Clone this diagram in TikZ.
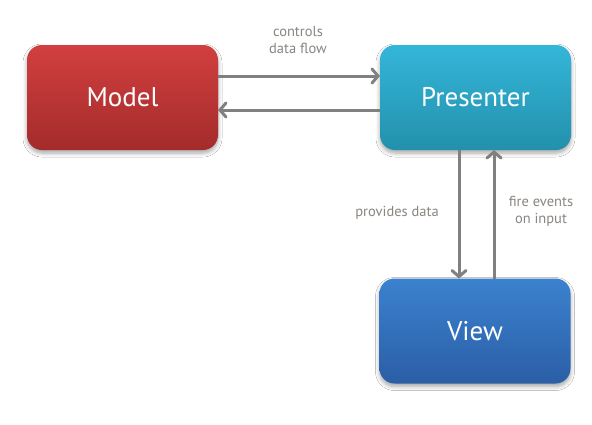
\documentclass[tikz,border=0pt]{standalone}
\usepackage{fontspec}
\setmainfont{PT Sans}
\usetikzlibrary{arrows.meta,shadows.blur}
\definecolor{arrowgray}{HTML}{808080}
\definecolor{labelgray}{HTML}{8A8580}
\definecolor{modeltop}{HTML}{D23F3F}
\definecolor{modelbot}{HTML}{A42B2B}
\definecolor{prestop}{HTML}{34B6D9}
\definecolor{presbot}{HTML}{2390AC}
\definecolor{viewtop}{HTML}{3B82CF}
\definecolor{viewbot}{HTML}{2B5EA6}
\tikzset{
  block/.style={rectangle, rounded corners=15pt, minimum width=191pt,
    minimum height=105pt, inner sep=0pt, outer sep=0pt, text=white,
    font=\fontsize{27}{30}\selectfont,
    blur shadow={shadow xshift=0pt, shadow yshift=-3pt, shadow blur steps=6,
      shadow blur radius=4pt, shadow opacity=35}},
  flow/.style={draw=arrowgray, line width=3pt,
    -{Straight Barb[length=6pt,width=14pt,line cap=round]}},
  note/.style={text=labelgray, font=\fontsize{14.5}{17}\selectfont, align=center}
}
\begin{document}
\begin{tikzpicture}[x=1pt,y=-1pt]
  \useasboundingbox[fill=white] (0,0) rectangle (592,424);
  % the three MVP components
  \node[block, top color=modeltop, bottom color=modelbot] (model) at (122.5,97.5) {Model};
  \node[block, top color=prestop, bottom color=presbot] (presenter) at (475.5,97.5) {Presenter};
  \node[block, top color=viewtop, bottom color=viewbot] (view) at (475,331) {View};
  % model <-> presenter
  \draw[flow] ([yshift=21.5pt]model.east) -- ([yshift=21.5pt]presenter.west);
  \draw[flow] ([yshift=-12.5pt]presenter.west) -- ([yshift=-12.5pt]model.east);
  % presenter <-> view
  \draw[flow] ([xshift=-16.5pt]presenter.south) -- ([xshift=-16pt]view.north);
  \draw[flow] ([xshift=19pt]view.north) -- ([xshift=18.5pt]presenter.south);
  % labels
  \node[note] (lcontrols) at (298,40) {controls\\data flow};
  \node[note] (lprovides) at (397,213) {provides data};
  \node[note] (lfire) at (541,211.5) {fire events\\on input};
\end{tikzpicture}
\end{document}
